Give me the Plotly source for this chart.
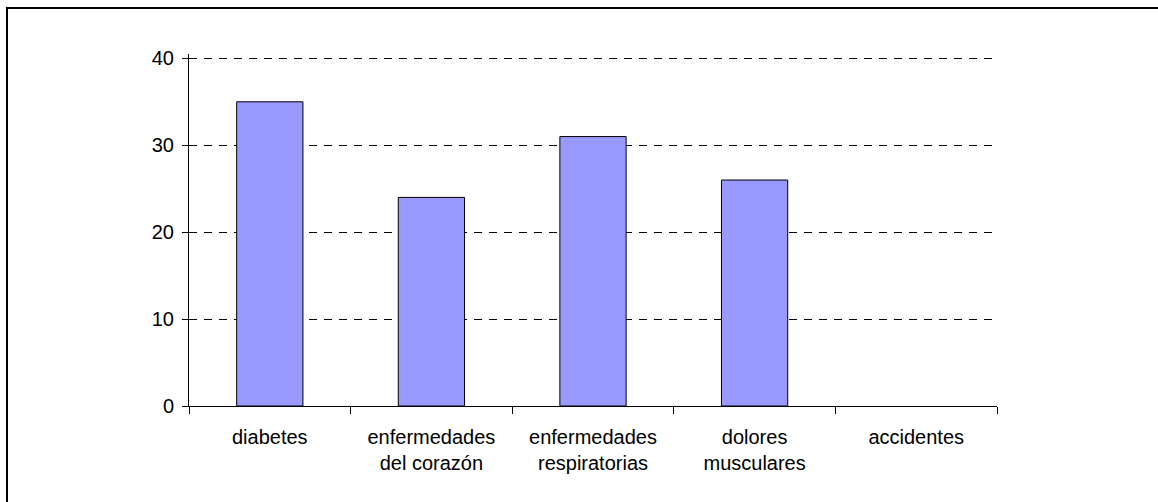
import plotly.graph_objects as go

categories = ["diabetes", "enfermedades<br>del corazón", "enfermedades<br>respiratorias",
              "dolores<br>musculares", "accidentes"]
values = [35, 24, 31, 26, 0]
y_ticks = [0, 10, 20, 30, 40]

W, H = 1158, 502
L, R, T, B = 189, 161, 54, 96
pw, ph = W - L - R, H - T - B

fig = go.Figure(go.Bar(
    x=categories, y=values, width=0.41,
    marker=dict(color="#9999FF",
                line=dict(color="black", width=[1 if v > 0 else 0 for v in values])),
))

font = dict(family="Liberation Sans, Arial, sans-serif", size=20, color="black")

fig.update_layout(
    width=W, height=H,
    margin=dict(l=L, r=R, t=T, b=B),
    paper_bgcolor="white", plot_bgcolor="white",
    showlegend=False, font=font, bargap=0.59,
    xaxis=dict(type="category", range=[-0.5, 4.5], showline=True, linecolor="black",
               linewidth=1, ticks="outside", ticklen=7, tickcolor="black",
               tickson="boundaries", showgrid=False, tickfont=font, fixedrange=True,
               ticklabelstandoff=13),
    yaxis=dict(range=[0, 40.5], tickvals=y_ticks, showline=True, linecolor="black",
               linewidth=1, ticks="outside", ticklen=6, tickcolor="black",
               showgrid=True, gridcolor="black", gridwidth=1, griddash="8px,7px",
               zeroline=False, tickfont=font, fixedrange=True, ticklabelstandoff=4),
    shapes=[dict(type="rect", xref="paper", yref="paper",
                 x0=(7 - L) / pw, x1=(1170 - L) / pw,
                 y0=-(H + 10 - (H - B)) / ph, y1=1 + (T - 8) / ph,
                 line=dict(color="black", width=2), layer="below")],
)

fig.write_html("out.html", config={"displayModeBar": False})
